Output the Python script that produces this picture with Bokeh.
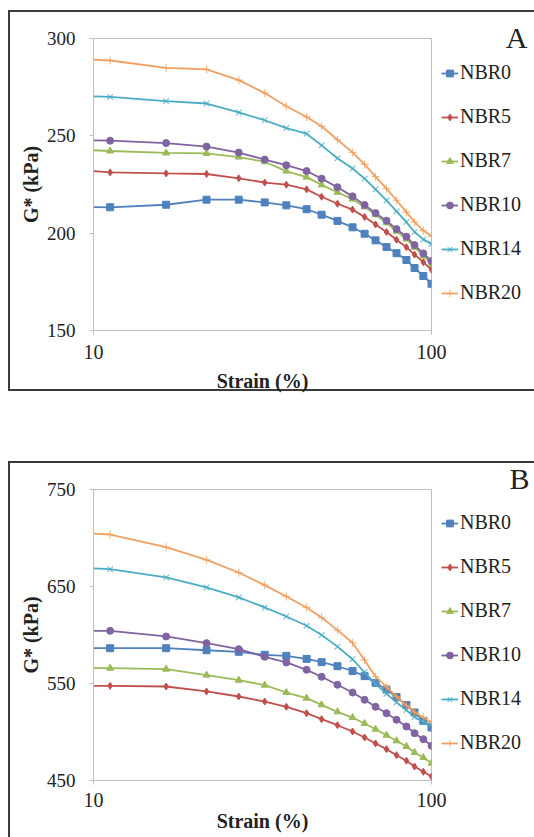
from bokeh.plotting import figure
from bokeh.models import FixedTicker, NumeralTickFormatter, Legend, LegendItem
from bokeh.layouts import column
from bokeh.embed import file_html
from bokeh.resources import INLINE

# ---------------- data ----------------
strain = [10, 11.2, 16.4, 21.6, 26.9, 32.1, 37.2, 42.7, 47.3, 52.7, 58.4,
          63.4, 68.3, 73.6, 78.8, 84.3, 89.1, 94.6, 100]

series_names = ["NBR0", "NBR5", "NBR7", "NBR10", "NBR14", "NBR20"]

a_nbr0 = [213.4, 213.3, 214.6, 217.2, 217.2, 215.8, 214.3, 212.3, 209.5, 206.3, 203.0,
          199.7, 196.3, 192.9, 189.7, 186.2, 182.1, 178.0, 174.0]
a_nbr5 = [231.9, 231.2, 230.7, 230.4, 228.2, 226.0, 224.9, 222.5, 218.7, 215.1, 212.1,
          208.3, 204.5, 200.6, 196.6, 192.8, 189.0, 185.1, 181.2]
a_nbr7 = [242.6, 242.2, 241.2, 241.0, 239.1, 236.7, 231.9, 228.8, 224.8, 221.0, 217.5,
          213.5, 209.5, 205.3, 201.0, 197.0, 192.8, 188.3, 184.0]
a_nbr10 = [247.7, 247.5, 246.3, 244.5, 241.4, 237.8, 234.9, 231.9, 228.0, 223.6, 218.9,
           214.5, 210.3, 206.4, 202.1, 198.2, 193.9, 189.6, 185.7]
a_nbr14 = [270.3, 270.0, 267.8, 266.6, 262.0, 258.0, 254.0, 251.1, 245.1, 238.5, 233.2,
           228.0, 222.5, 216.8, 211.2, 205.7, 200.6, 196.8, 194.5]
a_nbr20 = [289.2, 288.7, 284.9, 284.1, 278.6, 272.0, 265.2, 259.7, 254.9, 248.0, 241.5,
           235.3, 229.0, 222.9, 216.9, 210.8, 205.7, 201.3, 198.5]

b_nbr0 = [586.4, 586.4, 586.4, 584.3, 582.7, 579.6, 578.5, 575.4, 572.0, 567.8, 562.9,
          557.6, 550.6, 543.8, 536.1, 527.8, 520.1, 511.5, 504.6]
b_nbr5 = [547.6, 547.6, 546.9, 541.8, 536.6, 531.4, 526.0, 519.4, 513.2, 507.0, 500.5,
          494.3, 488.2, 482.3, 476.1, 470.4, 464.4, 459.0, 454.1]
b_nbr7 = [565.8, 565.8, 564.8, 558.6, 553.4, 548.3, 540.7, 534.9, 528.0, 520.8, 514.9,
          508.8, 502.9, 496.7, 490.9, 485.1, 478.9, 473.7, 467.9]
b_nbr10 = [604.3, 604.3, 598.5, 591.6, 585.4, 577.5, 571.7, 564.1, 556.9, 548.7, 540.7,
           533.2, 526.0, 519.4, 512.6, 505.7, 498.8, 492.6, 485.8]
b_nbr14 = [668.6, 667.9, 659.3, 649.0, 638.7, 628.4, 619.1, 609.5, 600.0, 588.0, 575.0,
           561.5, 549.5, 539.5, 530.5, 522.5, 515.5, 510.0, 507.0]
b_nbr20 = [704.6, 703.6, 690.5, 677.5, 664.4, 651.4, 639.7, 628.4, 618.0, 605.0, 592.0,
           574.0, 557.0, 546.5, 536.5, 527.5, 520.5, 515.0, 510.0]

x_ticks = [10, 100]
y_ticks_a = [150, 200, 250, 300]
y_ticks_b = [450, 550, 650, 750]

# ---------------- style ----------------
colors = ["#4F81BD", "#C0504D", "#9BBB59", "#8064A2", "#4BACC6", "#F0A060"]
markers = ["square", "diamond", "triangle", "circle", "x", "cross"]
msizes = [7, 7, 7, 7, 8, 8]
FONT = "Liberation Serif"
GRAY = "#bfbfbf"
TXT = "#222222"
DARK = "#3a3a3a"


def css_lines(rects):
    parts = []
    for (x, y, w, h) in rects:
        parts.append(f"linear-gradient({DARK},{DARK}) {x}px {y}px / {w}px {h}px no-repeat")
    return {"background": ", ".join(parts)}


def panel(letter, series, y0, y1, yticks, fheight, top, bottom, leg_y,
          title_standoff, title_offset, xtick_standoff, xlabel_standoff, border_rects):
    p = figure(frame_width=338, frame_height=fheight, x_axis_type="log",
               x_range=(10, 100), y_range=(y0, y1), output_backend="svg",
               toolbar_location=None, title=letter,
               min_border_left=93, min_border_right=103,
               min_border_top=top, min_border_bottom=bottom)
    p.background_fill_color = "white"
    p.border_fill_color = None
    p.outline_line_color = GRAY
    p.xgrid.visible = False
    p.ygrid.visible = False

    items = []
    for name, ys, c, m, s in zip(series_names, series, colors, markers, msizes):
        lr = p.line(strain, ys, line_color=c, line_width=1.8)
        sr = p.scatter(strain[1:], ys[1:], marker=m, size=s, fill_color=c,
                       line_color=c, line_width=1.2 if m in ("x", "cross") else 1,
                       line_alpha=0.75 if m in ("x", "cross") else 1)
        items.append(LegendItem(label=name, renderers=[lr, sr]))

    leg = Legend(items=items, location=(10, leg_y), margin=10, padding=2,
                 spacing=21, glyph_width=17, glyph_height=22, label_height=22,
                 label_standoff=2, border_line_color=None,
                 background_fill_alpha=0)
    leg.label_text_font = FONT
    leg.label_text_font_size = "20px"
    leg.label_text_color = TXT
    p.add_layout(leg, "right")

    for ax in (p.xaxis, p.yaxis):
        ax.axis_line_color = GRAY
        ax.major_tick_line_color = GRAY
        ax.major_tick_out = 4
        ax.major_tick_in = 0
        ax.minor_tick_line_color = None
        ax.major_label_text_font = FONT
        ax.major_label_text_color = TXT
        ax.axis_label_text_font = FONT
        ax.axis_label_text_font_size = "20px"
        ax.axis_label_text_font_style = "bold"
        ax.axis_label_text_color = TXT
    p.xaxis.major_label_text_font_size = "20px"
    p.yaxis.major_label_text_font_size = "19px"

    p.xaxis.ticker = FixedTicker(ticks=x_ticks, minor_ticks=[])
    p.xaxis.formatter = NumeralTickFormatter(format="0")
    p.yaxis.ticker = FixedTicker(ticks=yticks, minor_ticks=[])
    p.xaxis.axis_label = "Strain (%)"
    p.yaxis.axis_label = "G* (kPa)"
    p.xaxis.major_label_standoff = xtick_standoff
    p.xaxis.axis_label_standoff = xlabel_standoff
    p.yaxis.major_label_standoff = 14
    p.yaxis.axis_label_standoff = 2

    p.title.align = "right"
    p.title.vertical_align = "bottom"
    p.title.offset = title_offset
    p.title.standoff = title_standoff
    p.title.text_font = FONT
    p.title.text_font_size = "30px"
    p.title.text_font_style = "normal"
    p.title.text_color = TXT

    p.styles = css_lines(border_rects)
    return p


pa = panel("A", [a_nbr0, a_nbr5, a_nbr7, a_nbr10, a_nbr14, a_nbr20],
           150, 300, y_ticks_a, 292, 38, 62, 26, -31, -96, 10, 8,
           [(8, 10, 2, 381), (8, 10, 526, 2), (8, 389, 526, 2)])
pb = panel("B", [b_nbr0, b_nbr5, b_nbr7, b_nbr10, b_nbr14, b_nbr20],
           450, 750, y_ticks_b, 291, 95, 59, 26, -11, -98, 8, 0,
           [(8, 67, 2, 400), (8, 67, 526, 2)])

layout = column(pa, pb, spacing=0)
open("out.html", "w").write(file_html(layout, INLINE))
